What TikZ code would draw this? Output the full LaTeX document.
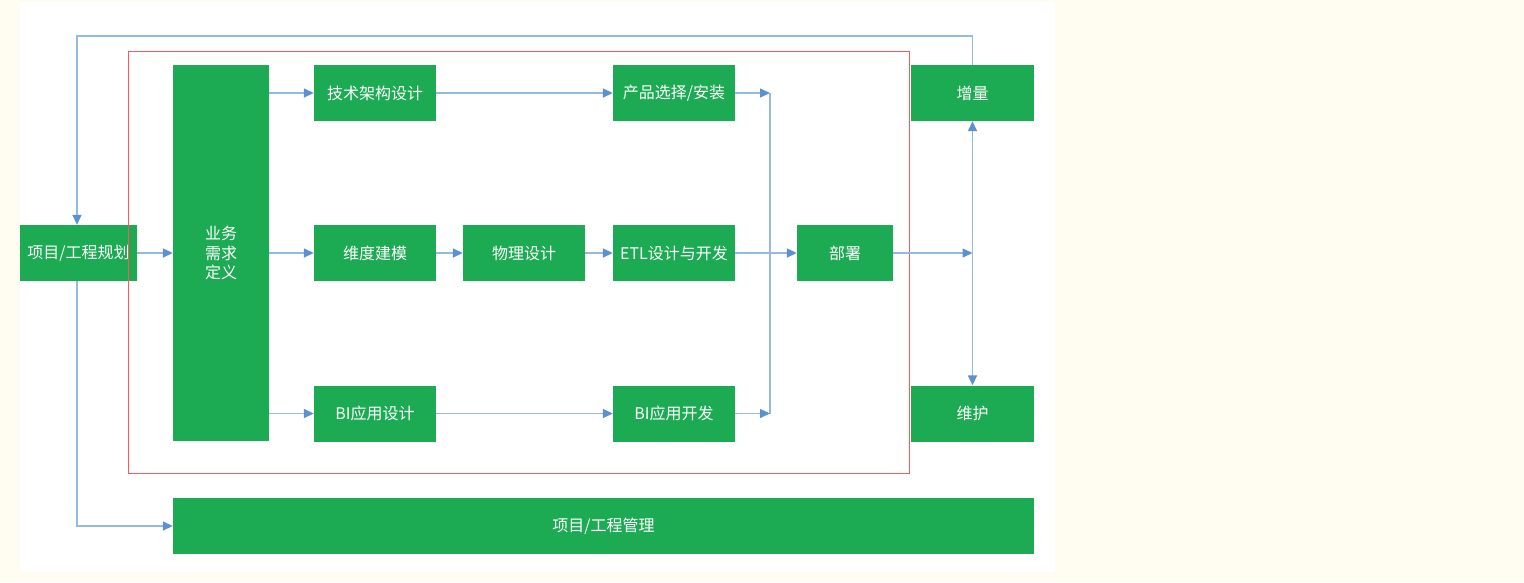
\documentclass[tikz,border=0pt]{standalone}
\usepackage{fontspec}
\newfontfamily\cjk{Noto Sans CJK SC}
\usetikzlibrary{arrows.meta,calc,positioning}
\definecolor{stagegreen}{RGB}{28,170,82}
\definecolor{lineblue}{RGB}{150,185,222}
\definecolor{tipblue}{RGB}{90,145,210}
\definecolor{framered}{RGB}{255,85,85}
\definecolor{cream}{RGB}{255,253,242}
\tikzset{%
	stage/.style = {fill=stagegreen, text=white, font=\cjk\fontsize{16}{19.5}\selectfont, inner sep=0pt, align=center, minimum width=122pt, minimum height=56pt},
	link/.style  = {draw=lineblue, line width=1.5pt},
	flow/.style  = {link, -{Triangle[length=10pt,width=9pt,color=tipblue]}},
	both/.style  = {link, {Triangle[length=10pt,width=9pt,color=tipblue]}-{Triangle[length=10pt,width=9pt,color=tipblue]}},
}
\begin{document}
\begin{tikzpicture}[x=1pt,y=-1pt]
	
	\fill[cream] (0,0) rectangle (1524,582);
	\useasboundingbox (0,0) rectangle (1524,582);
	\fill[white] (20,2) rectangle (1055,572);
	
	\node[stage, minimum width=117pt] (plan) at (78.5,253) {项目/工程规划};
	\node[stage, minimum width=96pt, minimum height=376pt] (req) at (221,253) {业务\\需求\\定义};
	\node[stage] (tech) at (375,93) {技术架构设计};
	\node[stage] (dim) at (375,253) {维度建模};
	\node[stage] (bidesign) at (375,413.5) {BI应用设计};
	\node[stage] (phys) at (524,253) {物理设计};
	\node[stage] (prod) at (674,93) {产品选择/安装};
	\node[stage] (etl) at (674,253) {ETL设计与开发};
	\node[stage] (bidev) at (674,413.5) {BI应用开发};
	\node[stage, minimum width=96pt] (deploy) at (845,253) {部署};
	\node[stage, minimum width=123pt] (incr) at (972.5,93) {增量};
	\node[stage, minimum width=123pt] (maint) at (972.5,413.5) {维护};
	\node[stage, minimum width=861pt] (mgmt) at (603.5,526) {项目/工程管理};
	
	\draw[framered, line width=1pt] (128,51) rectangle (909,473);  % core area
	
	\coordinate (mergetop) at (770,93);
	\coordinate (mergebot) at (770,413.5);
	\coordinate (fork) at (incr.south |- deploy);
	\coordinate (loop) at (77,36);
	
	\draw[flow] (plan) -- (req);
	\draw[flow] (req.east |- tech) -- (tech);
	\draw[flow] (req.east |- dim) -- (dim);
	\draw[flow] (req.east |- bidesign) -- (bidesign);
	\draw[flow] (tech) -- (prod);
	\draw[flow] (dim) -- (phys);
	\draw[flow] (phys) -- (etl);
	\draw[flow] (bidesign) -- (bidev);
	\draw[link] (mergetop) -- (mergebot);
	\draw[flow] (prod) -- (mergetop);
	\draw[flow] (bidev) -- (mergebot);
	\draw[flow] (etl) -- (deploy);
	\draw[flow] (deploy) -- (fork);
	\draw[both] (incr) -- (maint);
	\draw[flow] (incr.north) |- (loop) -- (loop |- plan.north);  % back to planning
	\draw[flow] (plan.south -| loop) |- (mgmt.west);
	
\end{tikzpicture}
\end{document}
